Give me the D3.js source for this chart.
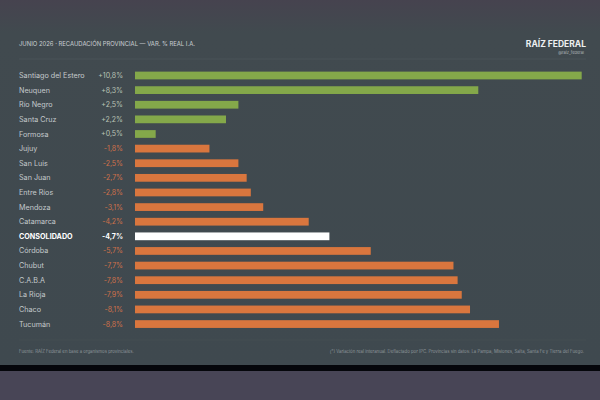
<!DOCTYPE html>
<html>
<head>
<meta charset="utf-8">
<script src="https://cdn.jsdelivr.net/npm/d3@7"></script>
<style>
  html, body { margin: 0; padding: 0; background: #46444f; }
  svg { display: block; }
</style>
</head>
<body>
<div id="chart"></div>
<script>
// Data
const provinces = ["Santiago del Estero", "Neuquen", "Río Negro", "Santa Cruz", "Formosa", "Jujuy",
  "San Luis", "San Juan", "Entre Ríos", "Mendoza", "Catamarca", "CONSOLIDADO", "Córdoba",
  "Chubut", "C.A.B.A", "La Rioja", "Chaco", "Tucumán"];
const variation = [10.8, 8.3, 2.5, 2.2, 0.5, -1.8, -2.5, -2.7, -2.8, -3.1, -4.2, -4.7, -5.7,
  -7.7, -7.8, -7.9, -8.1, -8.8];
const totalLabel = "CONSOLIDADO";

const title = "JUNIO 2026 · RECAUDACIÓN PROVINCIAL — VAR. % REAL I.A.";
const brand = "RAÍZ FEDERAL";
const handle = "@raiz_federal";
const source = "Fuente: RAÍZ Federal en base a organismos provinciales.";
const note = "(*) Variación real interanual. Deflactado por IPC. Provincias sin datos: La Pampa, Misiones, Salta, Santa Fe y Tierra del Fuego.";

const width = 600, height = 400;
const font = "Inter, 'DejaVu Sans', sans-serif";

const svg = d3.select("#chart").append("svg")
    .attr("width", width)
    .attr("height", height);

// background gradient of the card
const defs = svg.append("defs");
const grad = defs.append("linearGradient")
    .attr("id", "bg").attr("x1", 0).attr("y1", 0).attr("x2", 0).attr("y2", 1);
grad.append("stop").attr("offset", "0%").attr("stop-color", "#46434f");
grad.append("stop").attr("offset", "9%").attr("stop-color", "#414a4f");
grad.append("stop").attr("offset", "100%").attr("stop-color", "#3f494f");

svg.append("rect").attr("width", width).attr("height", 365).attr("fill", "url(#bg)");
svg.append("rect").attr("y", 365).attr("width", width).attr("height", 6).attr("fill", "#05060b");
svg.append("rect").attr("y", 371).attr("width", width).attr("height", 29).attr("fill", "#484556");

// header
svg.append("text")
    .attr("x", 19).attr("y", 46)
    .attr("font-family", font)
    .attr("font-size", 5.9)
    .attr("fill", "#c9ced2")
    .text(title);

svg.append("text")
    .attr("x", 586).attr("y", 47)
    .attr("text-anchor", "end")
    .attr("font-family", font)
    .attr("font-weight", 700)
    .attr("font-size", 8.5)
    .attr("fill", "#eef0f1")
    .text(brand);

svg.append("text")
    .attr("x", 584).attr("y", 54)
    .attr("text-anchor", "end")
    .attr("font-family", font)
    .attr("font-size", 4)
    .attr("fill", "#aeb4b8")
    .text(handle);

svg.append("line")
    .attr("x1", 19).attr("x2", 586).attr("y1", 59).attr("y2", 59)
    .attr("stroke", "#4d575d").attr("stroke-width", 0.7);

// scales
const y = d3.scaleBand()
    .domain(provinces)
    .range([64.75, 334.8])
    .padding(0.47);

const x = d3.scaleLinear()
    .domain([0, 11])
    .range([135, 135 + 11 * 41.36]);

const rows = svg.append("g").selectAll("g")
    .data(provinces.map((p, i) => ({ name: p, value: variation[i] })))
    .join("g");

rows.append("rect")
    .attr("x", x(0))
    .attr("y", d => y(d.name))
    .attr("width", d => x(Math.abs(d.value)) - x(0))
    .attr("height", y.bandwidth())
    .attr("fill", d => d.name === totalLabel ? "#ffffff" : (d.value >= 0 ? "#84a84a" : "#d9763e"));

rows.append("text")
    .attr("x", 19)
    .attr("y", d => y(d.name) + y.bandwidth() / 2)
    .attr("dy", "0.35em")
    .attr("font-family", font)
    .attr("font-size", 7.2)
    .attr("font-weight", d => d.name === totalLabel ? 700 : 400)
    .attr("fill", d => d.name === totalLabel ? "#ffffff" : "#c4c9cc")
    .text(d => d.name);

const fmt = v => (v > 0 ? "+" : "") + d3.format(".1f")(v).replace(".", ",").replace("−", "-") + "%";

rows.append("text")
    .attr("x", 123)
    .attr("y", d => y(d.name) + y.bandwidth() / 2)
    .attr("dy", "0.35em")
    .attr("text-anchor", "end")
    .attr("font-family", font)
    .attr("font-size", 7)
    .attr("font-weight", d => d.name === totalLabel ? 700 : 400)
    .attr("fill", d => d.name === totalLabel ? "#ffffff" : (d.value >= 0 ? "#b9c2b4" : "#d0714a"))
    .text(d => fmt(d.value));

// footer
svg.append("line")
    .attr("x1", 19).attr("x2", 586).attr("y1", 340).attr("y2", 340)
    .attr("stroke", "#465056").attr("stroke-width", 0.6);

svg.append("text")
    .attr("x", 19).attr("y", 353)
    .attr("font-family", font)
    .attr("font-size", 4.3)
    .attr("fill", "#8e969a")
    .text(source);

svg.append("text")
    .attr("x", 584).attr("y", 353)
    .attr("text-anchor", "end")
    .attr("font-family", font)
    .attr("font-size", 4.3)
    .attr("fill", "#8e969a")
    .text(note);
</script>
</body>
</html>
